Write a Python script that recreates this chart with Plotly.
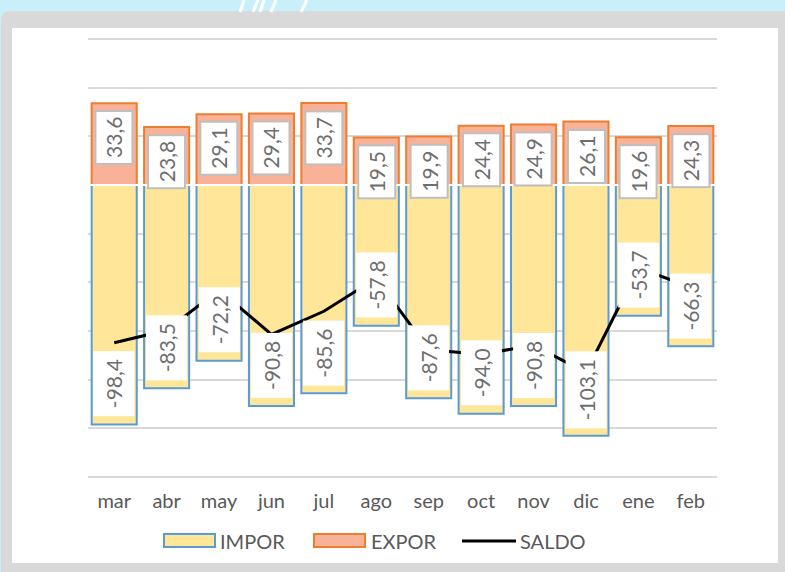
import plotly.graph_objects as go

months = ["mar", "abr", "may", "jun", "jul", "ago", "sep", "oct", "nov", "dic", "ene", "feb"]
impor = [-98.4, -83.5, -72.2, -90.8, -85.6, -57.8, -87.6, -94.0, -90.8, -103.1, -53.7, -66.3]
expor = [33.6, 23.8, 29.1, 29.4, 33.7, 19.5, 19.9, 24.4, 24.9, 26.1, 19.6, 24.3]
saldo = [-64.8, -59.7, -43.1, -61.4, -51.9, -38.3, -67.7, -69.6, -65.9, -77.0, -34.1, -42.0]

W, H = 785, 572
L, R, T, B = 88, 717, 35, 481
Y_RANGE = [-121.65, 61.65]
FONT = "Lato"
GRAY_TXT = "#595959"
LBL_TXT = "#6E6E6E"
IMP_FILL, IMP_LINE = "#FFE699", "#5B9BD5"
EXP_FILL, EXP_LINE = "#F8B298", "#ED7D31"


def px(x):
    return (x - L) / (R - L)


def py(y):
    return (B - y) / (B - T)


def fmt(v):
    return f"{v:.1f}".replace(".", ",")


fig = go.Figure()
fig.add_trace(go.Bar(
    x=months, y=impor, name="IMPOR", showlegend=False,
    marker=dict(color=IMP_FILL, line=dict(color=IMP_LINE, width=2)),
))
fig.add_trace(go.Bar(
    x=months, y=expor, name="EXPOR", showlegend=False,
    marker=dict(color=EXP_FILL, line=dict(color=EXP_LINE, width=2)),
))
fig.add_trace(go.Scatter(
    x=months, y=saldo, name="SALDO", mode="lines", showlegend=False,
    line=dict(color="black", width=3),
))

annotations = []
for m, v in zip(months, expor):
    annotations.append(dict(
        x=m, y=v, xref="x", yref="y", text=fmt(v), showarrow=False,
        textangle=-90, yanchor="top", xanchor="center", yshift=-7,
        bgcolor="white", bordercolor="#BFBFBF", borderwidth=2, borderpad=5,
        font=dict(family=FONT, size=21, color=LBL_TXT),
    ))
for m, v in zip(months, impor):
    annotations.append(dict(
        x=m, y=v, xref="x", yref="y", text=fmt(v), showarrow=False,
        textangle=-90, yanchor="bottom", xanchor="center", yshift=8,
        bgcolor="white", borderwidth=0, borderpad=8,
        font=dict(family=FONT, size=21, color=LBL_TXT),
    ))

shapes = []
# gray frame with rounded top-left corner
r = 9
x0, y0, x1, y1 = 1, 11, 786, 573
path = (f"M {px(x0)} {py(y0 + r)} Q {px(x0)} {py(y0)} {px(x0 + r)} {py(y0)} "
        f"L {px(x1)} {py(y0)} L {px(x1)} {py(y1)} L {px(x0)} {py(y1)} Z")
shapes.append(dict(type="path", xref="paper", yref="paper", path=path,
                   fillcolor="#D9D9D9", line=dict(width=0), layer="below"))
shapes.append(dict(type="rect", xref="paper", yref="paper",
                   x0=px(12), x1=px(778), y0=py(28), y1=py(563),
                   fillcolor="white", line=dict(width=0), layer="below"))
# decorative slashes in the top strip
for xb, xt in [(240, 244), (253, 258), (260, 264), (271, 276), (301, 307)]:
    shapes.append(dict(type="line", xref="paper", yref="paper",
                       x0=px(xb), y0=py(12), x1=px(xt), y1=py(0),
                       line=dict(color="white", width=3), layer="below"))
# white separation at zero
shapes.append(dict(type="line", xref="paper", yref="y", x0=0, x1=1, y0=0, y1=0,
                   line=dict(color="white", width=2), layer="above"))

# legend (drawn manually to match the wide swatches)
leg_y = 541
shapes.append(dict(type="rect", xref="paper", yref="paper",
                   x0=px(164), x1=px(215), y0=py(534), y1=py(547),
                   fillcolor=IMP_FILL, line=dict(color=IMP_LINE, width=2)))
shapes.append(dict(type="rect", xref="paper", yref="paper",
                   x0=px(314), x1=px(365), y0=py(534), y1=py(547),
                   fillcolor=EXP_FILL, line=dict(color=EXP_LINE, width=2)))
shapes.append(dict(type="line", xref="paper", yref="paper",
                   x0=px(462), x1=px(516), y0=py(leg_y), y1=py(leg_y),
                   line=dict(color="black", width=3)))
for name, xl in [("IMPOR", 218), ("EXPOR", 369), ("SALDO", 518)]:
    annotations.append(dict(
        x=px(xl), y=py(leg_y), xref="paper", yref="paper", text=name,
        showarrow=False, xanchor="left", yanchor="middle",
        font=dict(family=FONT, size=20, color=GRAY_TXT),
    ))

fig.update_layout(
    width=W, height=H,
    margin=dict(l=L, r=W - R, t=T, b=H - B, pad=0, autoexpand=False),
    paper_bgcolor="#C9F0FA",
    plot_bgcolor="rgba(0,0,0,0)",
    barmode="relative",
    bargap=0.14,
    font=dict(family=FONT, size=20, color=GRAY_TXT),
    showlegend=False,
    xaxis=dict(showgrid=False, showline=False, zeroline=False,
               ticks="outside", ticklen=2, tickcolor="rgba(0,0,0,0)",
               tickfont=dict(family=FONT, size=20, color=GRAY_TXT)),
    yaxis=dict(range=Y_RANGE, dtick=20, tick0=0, showgrid=True,
               gridcolor="#D9D9D9", gridwidth=2, showticklabels=False,
               zeroline=False, showline=False),
    annotations=annotations,
    shapes=shapes,
)

fig.write_html(
    "out.html",
    config={"displayModeBar": False},
    post_script="document.body.style.margin='0';document.body.style.overflow='hidden';",
)
